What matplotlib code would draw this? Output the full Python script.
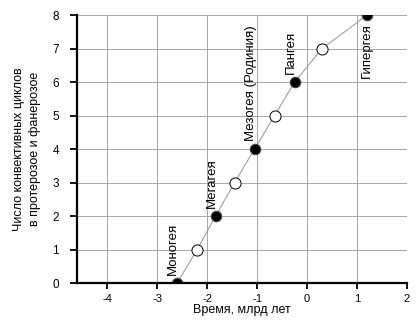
import matplotlib
matplotlib.use('Agg')
import matplotlib.pyplot as plt

plt.rcParams['font.family'] = ['Liberation Sans', 'DejaVu Sans']

# Supercontinent cycles: time (Ga) vs cycle number
times = [-2.6, -2.2, -1.83, -1.45, -1.05, -0.65, -0.25, 0.3, 1.2]
cycles = [0, 1, 2, 3, 4, 5, 6, 7, 8]
filled = [True, False, True, False, True, False, True, False, True]
names = ['Моногея', '', 'Мегагея', '', 'Мезогея (Родиния)', '', 'Пангея', '', 'Гипергея']

xticks = [-4, -3, -2, -1, 0, 1, 2]
yticks = [0, 1, 2, 3, 4, 5, 6, 7, 8]

fig = plt.figure(figsize=(4.17, 3.22), dpi=100)
ax = fig.add_axes([0.185, 0.121, 0.791, 0.832])

ax.plot(times, cycles, color='#a0a0a0', linewidth=0.8, zorder=2)
for t, c, f in zip(times, cycles, filled):
    if f:
        ax.plot(t, c, 'o', markersize=7.5, markerfacecolor='black',
                markeredgecolor='#444444', markeredgewidth=0.8, zorder=3)
    else:
        ax.plot(t, c, 'o', markersize=8, markerfacecolor='white',
                markeredgecolor='black', markeredgewidth=0.7, zorder=3)

# Rotated labels for named supercontinents
for t, c, name in zip(times, cycles, names):
    if not name:
        continue
    if c == 8:
        ax.text(t, c - 0.25, name, rotation=90, ha='center', va='top', fontsize=9.5)
    else:
        ax.text(t - 0.08, c + 0.25, name, rotation=90, ha='center', va='bottom', fontsize=9.5)

ax.set_xlim(-4.6, 2)
ax.set_ylim(0, 8)
ax.set_xticks(xticks)
ax.set_yticks(yticks)
ax.set_xticklabels([str(v) for v in xticks], fontsize=8)
ax.set_yticklabels([str(v) for v in yticks], fontsize=8.5)
ax.grid(True, color='#9a9a9a', linewidth=0.6)
ax.set_axisbelow(True)

for s in ['top', 'right']:
    ax.spines[s].set_visible(False)
for s in ['left', 'bottom']:
    ax.spines[s].set_linewidth(1.6)
ax.spines['bottom'].set_zorder(4)
ax.tick_params(direction='out', length=5, width=1.3)
ax.tick_params(axis='y', pad=8)
ax.tick_params(axis='x', length=4, pad=4)

ax.set_xlabel('Время, млрд лет', fontsize=9, labelpad=0)
ax.set_ylabel('Число конвективных циклов\nв протерозое и фанерозое', fontsize=9,
              labelpad=8, linespacing=1.45)

fig.savefig('out.png', dpi=100)
